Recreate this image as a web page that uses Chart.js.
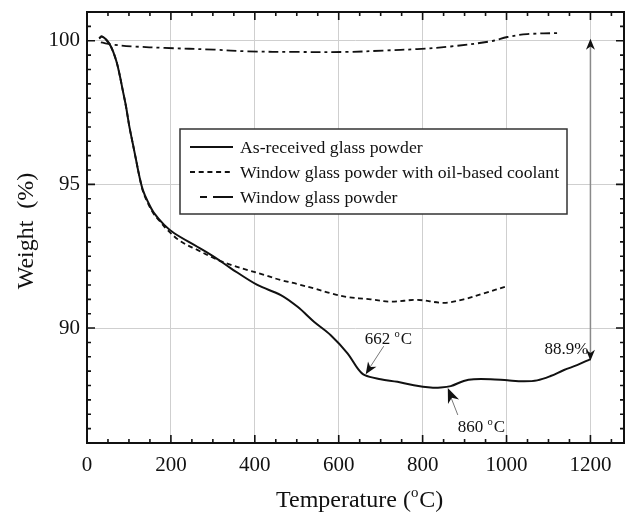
<!DOCTYPE html>
<html>
<head>
<meta charset="utf-8">
<script src="https://cdn.jsdelivr.net/npm/chart.js@4.4.1/dist/chart.umd.min.js"></script>
<style>
html, body { margin: 0; padding: 0; background: #fff; }
#wrap { width: 628px; height: 514px; }
</style>
</head>
<body>
<div id="wrap"><canvas id="tga"></canvas></div>
<script>
// Series names
const seriesLabels = [
    "As-received glass powder",
    "Window glass powder with oil-based coolant",
    "Window glass powder"
];

// As-received glass powder
const asReceivedT = [29, 35, 45, 57, 69, 77, 85, 93, 101, 109, 117, 125, 133, 145, 160, 184, 208, 263, 303, 343, 406, 462, 502, 541, 581, 621, 645, 662, 700, 740, 779, 819, 843, 867, 898, 922, 962, 1002, 1041, 1073, 1105, 1137, 1168, 1200];
const asReceivedW = [100.08, 100.15, 100.05, 99.80, 99.34, 98.87, 98.29, 97.71, 97.01, 96.43, 95.85, 95.27, 94.81, 94.40, 94.00, 93.59, 93.30, 92.83, 92.48, 92.08, 91.50, 91.15, 90.74, 90.22, 89.75, 89.12, 88.60, 88.36, 88.22, 88.13, 88.01, 87.93, 87.93, 87.98, 88.16, 88.22, 88.22, 88.18, 88.15, 88.18, 88.33, 88.54, 88.71, 88.92];

// Window glass powder with oil-based coolant
const coolantT = [29, 35, 45, 57, 69, 77, 85, 93, 101, 109, 117, 125, 133, 145, 160, 172, 192, 224, 263, 303, 343, 383, 422, 462, 502, 541, 581, 621, 676, 724, 787, 851, 898, 946, 1002];
const coolantW = [100.08, 100.15, 100.05, 99.80, 99.34, 98.87, 98.29, 97.71, 97.01, 96.43, 95.85, 95.27, 94.78, 94.35, 93.95, 93.75, 93.41, 93.01, 92.72, 92.43, 92.20, 92.02, 91.85, 91.67, 91.53, 91.38, 91.21, 91.08, 91.00, 90.92, 90.98, 90.88, 91.00, 91.21, 91.46];

// Window glass powder
const windowT = [33, 65, 113, 184, 303, 383, 502, 621, 708, 787, 867, 962, 1002, 1049, 1129];
const windowW = [99.94, 99.86, 99.80, 99.75, 99.69, 99.63, 99.61, 99.61, 99.66, 99.71, 99.80, 99.98, 100.13, 100.23, 100.27];

// Axes
const xTicks = [0, 200, 400, 600, 800, 1000, 1200];
const yTicks = [90, 95, 100];
const xRange = [0, 1280];
const yRange = [86, 101];
const xMinorStep = 50;
const yMinorStep = 0.5;

// Marked points
const onset = { t: 662, w: 88.36, label: "662 " };
const minimum = { t: 860, w: 87.95, label: "860 " };
const finalLoss = { t: 1200, from: 100, to: 88.9, label: "88.9%" };

const serif = "'Liberation Serif', 'Times New Roman', serif";
const ink = "#111";

function pts(xs, ys) {
    return xs.map((x, i) => ({ x: x, y: ys[i] }));
}

// texte avec un petit "o" en exposant
function supText(ctx, parts, x, y, size) {
    let cx = x;
    parts.forEach((p) => {
        const s = p.sup ? size * 0.62 : size;
        ctx.font = s + "px " + serif;
        ctx.fillText(p.t, cx, p.sup ? y - size * 0.42 : y);
        cx += ctx.measureText(p.t).width + (p.sup ? 1 : 0);
    });
}

function arrowHead(ctx, x0, y0, x1, y1, len, half) {
    const a = Math.atan2(y1 - y0, x1 - x0);
    ctx.save();
    ctx.translate(x1, y1);
    ctx.rotate(a);
    ctx.beginPath();
    ctx.moveTo(0, 0);
    ctx.lineTo(-len, -half);
    ctx.lineTo(-len * 0.7, 0);
    ctx.lineTo(-len, half);
    ctx.closePath();
    ctx.fill();
    ctx.restore();
}

const framePlugin = {
    id: "frame",
    afterDatasetsDraw(chart) {
        const { ctx, chartArea: a, scales } = chart;
        const xs = scales.x, ys = scales.y;
        ctx.save();
        ctx.strokeStyle = ink;
        ctx.fillStyle = ink;

        // cadre
        ctx.lineWidth = 2;
        ctx.strokeRect(a.left, a.top, a.right - a.left, a.bottom - a.top);

        // graduations vers l'interieur
        ctx.lineWidth = 1.6;
        ctx.beginPath();
        for (let v = xRange[0]; v <= xRange[1]; v += xMinorStep) {
            const px = xs.getPixelForValue(v);
            const len = xTicks.includes(v) ? 8 : 4;
            ctx.moveTo(px, a.bottom); ctx.lineTo(px, a.bottom - len);
            ctx.moveTo(px, a.top); ctx.lineTo(px, a.top + len);
        }
        for (let v = yRange[0]; v <= yRange[1] + 1e-9; v += yMinorStep) {
            const py = ys.getPixelForValue(v);
            const len = yTicks.includes(Math.round(v * 10) / 10) ? 8 : 4;
            ctx.moveTo(a.left, py); ctx.lineTo(a.left + len, py);
            ctx.moveTo(a.right, py); ctx.lineTo(a.right - len, py);
        }
        ctx.stroke();

        // fleche verticale 88.9%
        const fx = xs.getPixelForValue(finalLoss.t);
        const fTop = ys.getPixelForValue(finalLoss.from);
        const fBot = ys.getPixelForValue(finalLoss.to);
        ctx.strokeStyle = "#8a8a8a";
        ctx.lineWidth = 1.5;
        ctx.beginPath();
        ctx.moveTo(fx, fTop + 4); ctx.lineTo(fx, fBot - 4);
        ctx.stroke();
        arrowHead(ctx, fx, fBot, fx, fTop - 2, 11, 4.5);
        arrowHead(ctx, fx, fTop, fx, fBot + 1, 11, 4.5);

        ctx.textBaseline = "alphabetic";
        ctx.font = "17px " + serif;
        ctx.textAlign = "right";
        ctx.fillText(finalLoss.label, fx - 2, fBot - 6);
        ctx.textAlign = "left";

        // 662 oC
        const ox = xs.getPixelForValue(onset.t), oy = ys.getPixelForValue(onset.w);
        ctx.strokeStyle = "#777";
        ctx.lineWidth = 1;
        ctx.beginPath();
        ctx.moveTo(ox + 19, oy - 29); ctx.lineTo(ox + 4, oy - 6);
        ctx.stroke();
        arrowHead(ctx, ox + 19, oy - 29, ox + 1, oy - 1, 12, 5);
        supText(ctx, [{ t: onset.label }, { t: "o", sup: true }, { t: "C" }], ox, oy - 31, 17);

        // 860 oC
        const mx = xs.getPixelForValue(minimum.t), my = ys.getPixelForValue(minimum.w);
        ctx.beginPath();
        ctx.moveTo(mx + 10, my + 28); ctx.lineTo(mx + 3, my + 10);
        ctx.stroke();
        arrowHead(ctx, mx + 12, my + 30, mx, my + 1, 15, 6);
        supText(ctx, [{ t: minimum.label }, { t: "o", sup: true }, { t: "C" }], mx + 10, my + 45, 17);

        // legende
        const lx = 180, ly = 129, lw = 387, lh = 85;
        ctx.fillStyle = "#fff";
        ctx.fillRect(lx, ly, lw, lh);
        ctx.strokeStyle = "#333";
        ctx.lineWidth = 1.5;
        ctx.strokeRect(lx, ly, lw, lh);
        ctx.font = "17.7px " + serif;
        chart.data.datasets.forEach((ds, i) => {
            const cy = ly + 18 + i * 25;
            ctx.strokeStyle = ink;
            ctx.lineWidth = ds.borderWidth;
            ctx.setLineDash(ds.legendDash);
            ctx.beginPath();
            ctx.moveTo(lx + ds.legendStart, cy); ctx.lineTo(lx + 53, cy);
            ctx.stroke();
            ctx.setLineDash([]);
            ctx.fillStyle = ink;
            ctx.textBaseline = "middle";
            ctx.fillText(ds.label, lx + 60, cy + 1);
        });

        // titres des axes
        ctx.textBaseline = "alphabetic";
        ctx.fillStyle = ink;
        supText(ctx, [{ t: "Temperature (" }, { t: "o", sup: true }, { t: "C)" }], 276, 507, 24);
        ctx.save();
        ctx.translate(33, 231);
        ctx.rotate(-Math.PI / 2);
        ctx.font = "24px " + serif;
        ctx.textAlign = "center";
        ctx.fillText("Weight  (%)", 0, 0);
        ctx.restore();

        ctx.restore();
    }
};

const common = {
    fill: false,
    pointRadius: 0,
    borderColor: ink,
    tension: 0.35
};

new Chart(document.getElementById("tga"), {
    type: "line",
    data: {
        datasets: [
            { ...common, label: seriesLabels[0], data: pts(asReceivedT, asReceivedW), borderWidth: 2, borderDash: [], legendDash: [], legendStart: 10 },
            { ...common, label: seriesLabels[1], data: pts(coolantT, coolantW), borderWidth: 1.8, borderDash: [5, 3.5], legendDash: [5, 3.7], legendStart: 10 },
            { ...common, label: seriesLabels[2], data: pts(windowT, windowW), borderWidth: 1.8, borderDash: [10, 4, 3, 4], legendDash: [7, 6, 20, 0], legendStart: 20 }
        ]
    },
    options: {
        responsive: true,
        maintainAspectRatio: false,
        animation: false,
        layout: { padding: { top: 12, right: 4, left: 0, bottom: 0 } },
        plugins: { legend: { display: false }, tooltip: { enabled: false } },
        scales: {
            x: {
                type: "linear",
                min: xRange[0],
                max: xRange[1],
                afterBuildTicks: (s) => { s.ticks = xTicks.map((v) => ({ value: v })); },
                afterFit: (s) => { s.height = 71; s.paddingLeft = 0; s.paddingRight = 0; },
                grid: { color: "#cfcfcf", lineWidth: 1, drawTicks: false },
                border: { display: false },
                ticks: { color: ink, font: { family: serif, size: 21 }, padding: 10, maxRotation: 0, callback: (v) => String(v) }
            },
            y: {
                type: "linear",
                min: yRange[0],
                max: yRange[1],
                afterBuildTicks: (s) => { s.ticks = yTicks.map((v) => ({ value: v })); },
                afterFit: (s) => { s.width = 87; s.paddingTop = 0; s.paddingBottom = 0; },
                grid: { color: "#cfcfcf", lineWidth: 1, drawTicks: false },
                border: { display: false },
                ticks: { color: ink, font: { family: serif, size: 21 }, padding: 7, callback: (v) => String(v) }
            }
        }
    },
    plugins: [framePlugin]
});
</script>
</body>
</html>
